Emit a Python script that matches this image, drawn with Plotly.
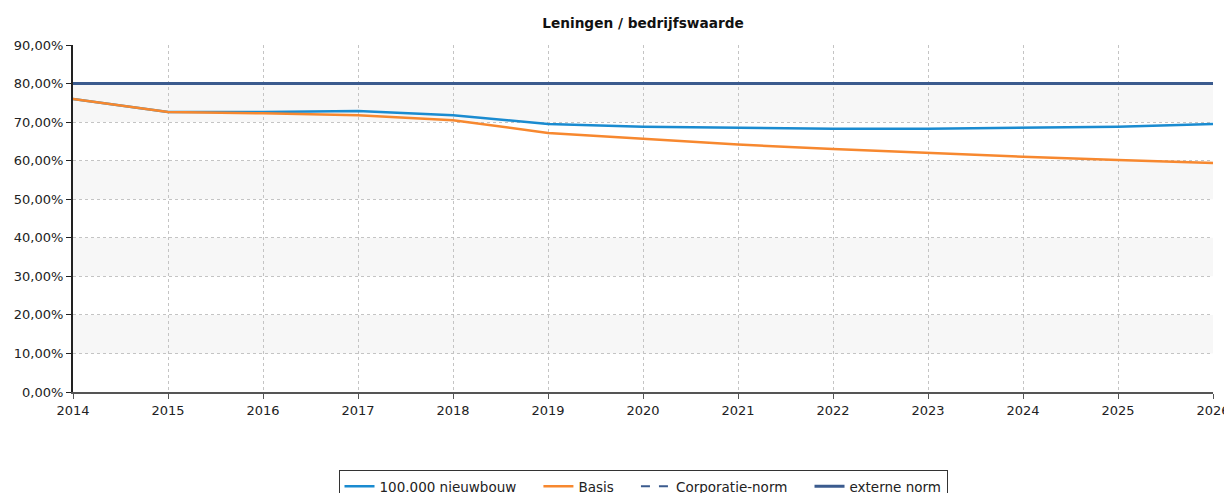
import plotly.graph_objects as go

jaren = list(range(2014, 2027))
nieuwbouw = [76.0, 72.6, 72.6, 72.9, 71.8, 69.5, 68.8, 68.5, 68.3, 68.3, 68.5, 68.8, 69.5]
basis = [76.0, 72.6, 72.3, 71.8, 70.5, 67.2, 65.7, 64.2, 63.0, 62.0, 61.0, 60.2, 59.4]
corporatie_norm = [80.0] * len(jaren)
externe_norm = [80.0] * len(jaren)
y_ticks = [0, 10, 20, 30, 40, 50, 60, 70, 80, 90]
y_tick_labels = [f"{v},00%" for v in y_ticks]

pad = "\u00a0" * 4  # extra room between legend entries

fig = go.Figure()
fig.add_trace(go.Scatter(x=jaren, y=nieuwbouw, name="100.000 nieuwbouw" + pad, mode="lines",
                         line=dict(color="#1a8bd0", width=2.5)))
fig.add_trace(go.Scatter(x=jaren, y=basis, name="Basis" + pad, mode="lines",
                         line=dict(color="#f7882f", width=2.5)))
fig.add_trace(go.Scatter(x=jaren, y=corporatie_norm, name="Corporatie-norm" + pad, mode="lines",
                         line=dict(color="#3b5b8e", width=2, dash="dash")))
fig.add_trace(go.Scatter(x=jaren, y=externe_norm, name="externe norm", mode="lines",
                         line=dict(color="#3b5b8e", width=3)))

# alternating light bands
for lo in [10, 30, 50, 70]:
    fig.add_shape(type="rect", xref="paper", yref="y", x0=0, x1=1, y0=lo, y1=lo + 10,
                  fillcolor="#f7f7f7", line_width=0, layer="below")

# page body has an 8px margin, so everything is shifted by 8px
fig.update_layout(
    width=1232, height=493,
    margin=dict(l=65, r=27, t=37, b=109, autoexpand=False),
    paper_bgcolor="white", plot_bgcolor="white",
    font=dict(family="DejaVu Sans, Verdana", size=13, color="#222"),
    title=dict(text="<b>Leningen / bedrijfswaarde</b>", x=0.5, xref="paper",
               y=1 - 15 / 493, yref="container", yanchor="middle",
               font=dict(size=13.7, color="#111")),
    showlegend=True,
    legend=dict(orientation="h", x=0.5, xanchor="center", xref="paper",
                y=(493 - 462) / 493, yref="container", yanchor="top",
                bordercolor="#333", borderwidth=1, font=dict(size=13.5),
                itemwidth=30),
)
fig.update_xaxes(range=[2014, 2026], tickmode="array", tickvals=jaren,
                 showgrid=True, gridcolor="#c4c4c4", griddash="dot",
                 showline=True, linecolor="#555", linewidth=2,
                 ticks="outside", ticklen=5, tickcolor="#555", zeroline=False,
                 automargin=False)
fig.update_yaxes(range=[0, 90], tickmode="array", tickvals=y_ticks, ticktext=y_tick_labels,
                 showgrid=True, gridcolor="#c4c4c4", griddash="dot",
                 showline=True, linecolor="#222", linewidth=2,
                 ticks="outside", ticklen=5, tickcolor="#222", zeroline=False,
                 automargin=False)

fig.write_html("out.html")
